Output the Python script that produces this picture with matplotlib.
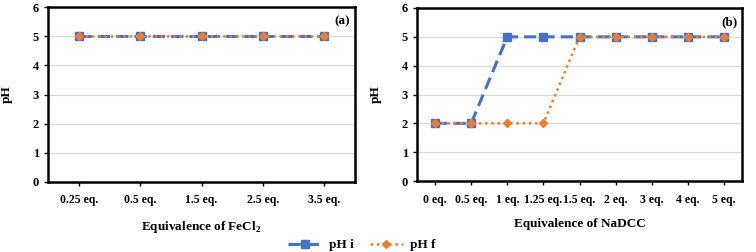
import matplotlib.pyplot as plt

########################################################
# DATA
########################################################

FECL2_LABELS = ["0.25 eq.", "0.5 eq.", "1.5 eq.", "2.5 eq.", "3.5 eq."]
FECL2_PH_I = [5, 5, 5, 5, 5]
FECL2_PH_F = [5, 5, 5, 5, 5]

NADCC_LABELS = ["0 eq.", "0.5 eq.", "1 eq.", "1.25 eq.", "1.5 eq.",
                "2 eq.", "3 eq.", "4 eq.", "5 eq."]
NADCC_PH_I = [2, 2, 5, 5, 5, 5, 5, 5, 5]
NADCC_PH_F = [2, 2, 2, 2, 5, 5, 5, 5, 5]

BLUE = "#4472C4"
ORANGE = "#ED7D31"

plt.rcParams["font.family"] = ["Liberation Serif", "DejaVu Serif"]
plt.rcParams["font.weight"] = "bold"
plt.rcParams["mathtext.fontset"] = "custom"
plt.rcParams["mathtext.rm"] = "Liberation Serif:bold"
plt.rcParams["mathtext.bf"] = "Liberation Serif:bold"

########################################################
# FIGURE
########################################################

fig = plt.figure(figsize=(7.56, 2.52), dpi=100)

W, H = 756, 252
ax_a = fig.add_axes([48 / W, 1 - 182 / H, (355 - 48) / W, (182 - 7) / H])
ax_b = fig.add_axes([417 / W, 1 - 181 / H, (742 - 417) / W, (181 - 8) / H])


def draw(ax, labels, ph_i, ph_f, xlabel, tag):

    x = list(range(len(labels)))

    ax.plot(x, ph_i, color=BLUE, linestyle=(0, (4, 2)), linewidth=2.2,
            marker="s", markersize=6, label="pH i", zorder=3)
    ax.plot(x, ph_f, color=ORANGE, linestyle=(0, (1, 1.5)), linewidth=1.8,
            marker="D", markersize=4.5, label="pH f", zorder=4)

    ax.set_xlim(-0.5, len(labels) - 0.5)
    ax.set_ylim(0, 6)
    ax.set_yticks(range(7))
    ax.set_xticks(x)
    ax.set_xticklabels(labels, fontsize=8.5, fontweight="bold")
    ax.tick_params(axis="y", labelsize=9, length=3, width=1)
    ax.tick_params(axis="x", length=3, width=1, pad=6)

    ax.grid(axis="y", color="#d9d9d9", linewidth=0.8)
    ax.set_axisbelow(True)

    for s in ax.spines.values():
        s.set_linewidth(1.8)
        s.set_color("black")

    ax.set_xlabel(xlabel, fontsize=9.5, fontweight="bold", labelpad=9)
    ax.set_ylabel("pH", fontsize=9.5, fontweight="bold", labelpad=14)

    ax.text(0.985, 0.95, tag, transform=ax.transAxes, ha="right",
            va="top", fontsize=9.5, fontweight="bold")


draw(ax_a, FECL2_LABELS, FECL2_PH_I, FECL2_PH_F,
     r"Equivalence of FeCl$_\mathrm{2}$", "(a)")
draw(ax_b, NADCC_LABELS, NADCC_PH_I, NADCC_PH_F,
     "Equivalence of NaDCC", "(b)")

handles, lbls = ax_b.get_legend_handles_labels()
fig.legend(handles, lbls, loc="center", bbox_to_anchor=(362 / W, 1 - 245 / H),
           ncol=2, frameon=False, fontsize=9.5, handlelength=2.5,
           handletextpad=0.6, columnspacing=1.2)

plt.savefig("out.png", dpi=100)
